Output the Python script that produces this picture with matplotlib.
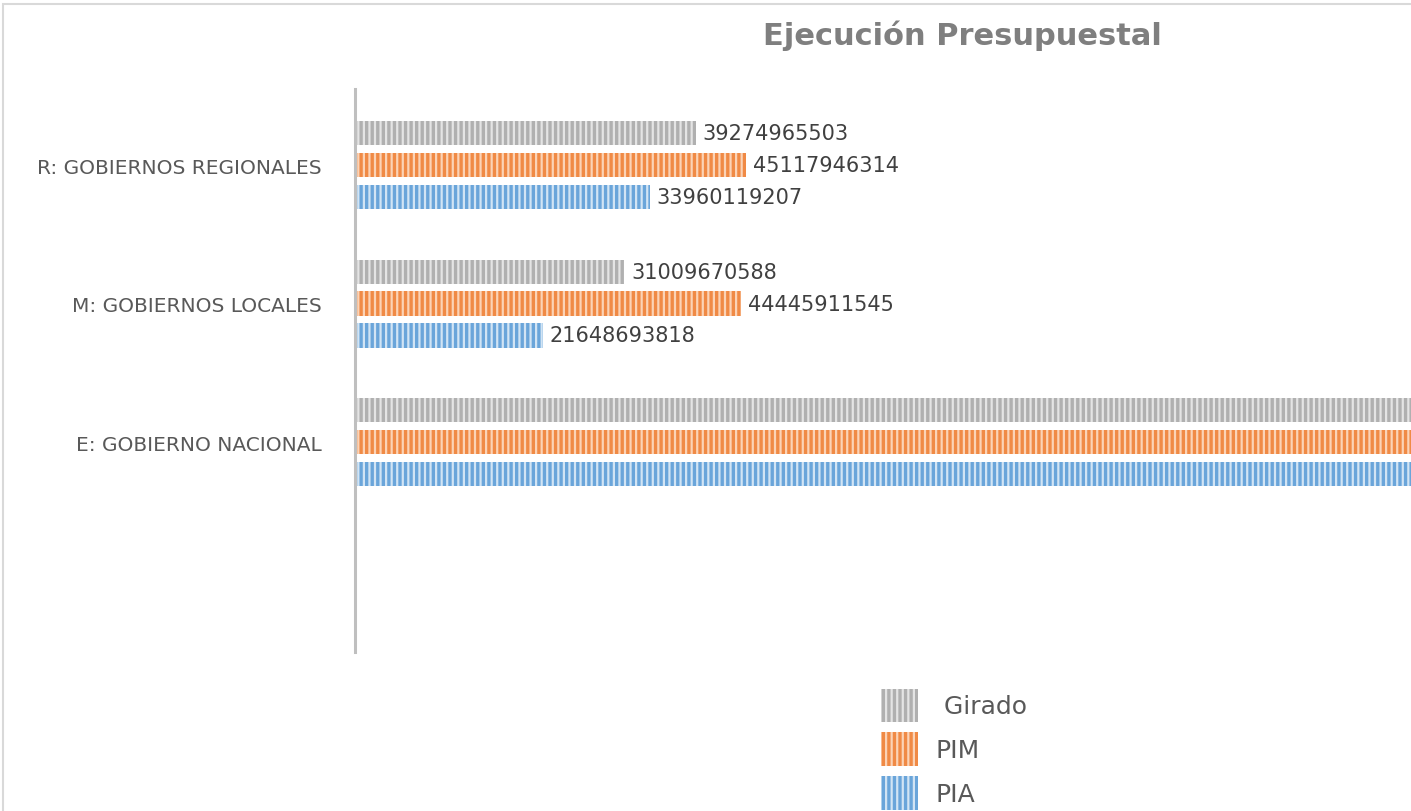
import matplotlib.pyplot as plt
from matplotlib.patches import Rectangle, Patch
import numpy as np

# data
categorias = ["E: GOBIERNO NACIONAL", "M: GOBIERNOS LOCALES", "R: GOBIERNOS REGIONALES"]
girado = [128000000000, 31009670588, 39274965503]
pim = [135000000000, 44445911545, 45117946314]
pia = [126000000000, 21648693818, 33960119207]

series = [("Girado", girado, "#b0b0b0", "#e4e4e4", 0.23),
          ("PIM", pim, "#f08a45", "#fbd3b6", 0.0),
          ("PIA", pia, "#6aa5da", "#d2e4f4", -0.23)]

xmax = 121.7e9
plt.rcParams['hatch.linewidth'] = 1.6

fig = plt.figure(figsize=(14.11, 8.12), dpi=100)
ax = fig.add_axes([355 / 1411, 1 - 653 / 812, 1 - 355 / 1411, (653 - 90) / 812])

y = np.arange(len(categorias))
for nombre, vals, col, hcol, off in series:
    ax.barh(y + off, vals, height=0.175, color=col, edgecolor=hcol,
            hatch="|||", linewidth=0, label=nombre)
    for yi, v in zip(y, vals):
        if v < xmax * 0.85:
            ax.text(v + 0.8e9, yi + off, str(v), va="center", ha="left",
                    fontsize=15, color="#404040")

ax.set_xlim(0, xmax)
ax.set_ylim(-1.516, 2.549)
ax.set_yticks(y)
ax.set_yticklabels(categorias, fontsize=14.5, color="#595959")
ax.tick_params(axis="y", length=0, pad=24)
ax.set_xticks([])
for s in ["top", "right", "bottom"]:
    ax.spines[s].set_visible(False)
ax.spines["left"].set_color("#bfbfbf")
ax.spines["left"].set_linewidth(2.2)

fig.text(962 / 1411, 1 - 36 / 812, "Ejecución Presupuestal", ha="center", va="center",
         fontsize=22, fontweight="bold", color="#7f7f7f")

# marco del grafico
fig.patches.append(Rectangle((3 / 1411, -0.1), 1.1, 1 - 5 / 812 + 0.1, transform=fig.transFigure,
                             fill=False, edgecolor="#d9d9d9", linewidth=1.5))

handles = [Patch(facecolor=c, edgecolor=h, hatch="|||", linewidth=0) for _, _, c, h, _ in series]
fig.legend(handles, [" Girado", "PIM", "PIA"], loc="upper left",
           bbox_to_anchor=(858 / 1411, 1 - 667 / 812), frameon=False, fontsize=18,
           labelcolor="#595959", handlelength=1.5, handleheight=1.7,
           labelspacing=0.4, handletextpad=0.7)

fig.savefig("out.png", dpi=100)
